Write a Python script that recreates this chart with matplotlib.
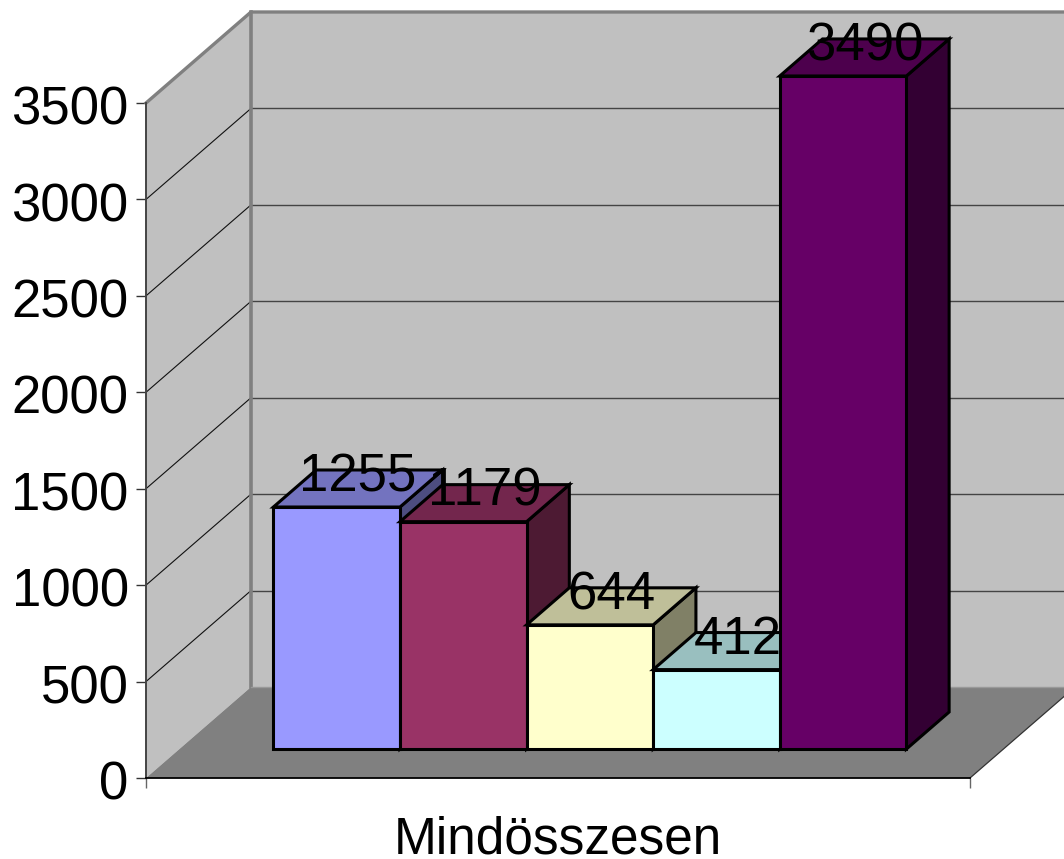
import matplotlib
matplotlib.use("Agg")
import matplotlib.pyplot as plt
from matplotlib.patches import Polygon
from matplotlib.colors import to_rgb
from matplotlib.transforms import ScaledTranslation

plt.rcParams['font.family'] = ['Liberation Sans', 'DejaVu Sans']

# ---- data ----
category = 'Mindösszesen'
values = [1255, 1179, 644, 412, 3490]
colors = ['#9999FF', '#993366', '#FFFFCC', '#CCFFFF', '#660066']
y_ticks = [0, 500, 1000, 1500, 2000, 2500, 3000, 3500]

# ---- layout ----
W, H = 1064, 859
PX_L, PX_R, PX_B, PX_T = 146, 970, 778, 103
DEPTH_X = 105 / (PX_R - PX_L)              # full depth, x axis units
DEPTH_Y = 91 * y_ticks[-1] / (PX_B - PX_T)  # full depth, value units
BAR_W = 126.6 / (PX_R - PX_L)
BAR_START = 94 / (PX_R - PX_L)
D0, D1 = 0.318, 0.725                       # bar front/back in the depth
FS = 38


def proj(x, v, d):
    return (x + d * DEPTH_X, v + d * DEPTH_Y)


def shade(c, f):
    return tuple(f * a for a in to_rgb(c))


fig = plt.figure(figsize=(W / 100, H / 100), dpi=100, facecolor='white')
ax = fig.add_axes([PX_L / W, 1 - PX_B / H, (PX_R - PX_L) / W, (PX_B - PX_T) / H])
ax.set_xlim(0, 1)
ax.set_ylim(0, y_ticks[-1])
ax.patch.set_visible(False)
ymax = y_ticks[-1]

# walls and floor
ax.add_patch(Polygon([proj(0, 0, 1), proj(1, 0, 1), proj(1, ymax, 1), proj(0, ymax, 1)],
                     fc='#C0C0C0', ec='none', clip_on=False, zorder=1))
ax.add_patch(Polygon([proj(0, 0, 0), proj(0, 0, 1), proj(0, ymax, 1), proj(0, ymax, 0)],
                     fc='#C0C0C0', ec='none', clip_on=False, zorder=1))
ax.add_patch(Polygon([proj(0, 0, 0), proj(1, 0, 0), proj(1, 0, 1), proj(0, 0, 1)],
                     fc='#808080', ec='none', clip_on=False, zorder=1))

# gridlines
for t in y_ticks[1:-1]:
    a, b, c = proj(0, t, 0), proj(0, t, 1), proj(1, t, 1)
    ax.plot([a[0], b[0]], [a[1], b[1]], color='#111111', lw=0.8, clip_on=False, zorder=2)
    ax.plot([b[0], c[0]], [b[1], c[1]], color='#444444', lw=1.0, clip_on=False, zorder=2)

# wall frame
frame = [proj(0, ymax, 0), proj(0, ymax, 1), proj(1, ymax, 1)]
ax.plot([p[0] for p in frame], [p[1] for p in frame], color='#808080', lw=2.4, clip_on=False, zorder=2)
e0, e1 = proj(0, 0, 1), proj(0, ymax, 1)
ax.plot([e0[0], e1[0]], [e0[1], e1[1]], color='#808080', lw=2.6, clip_on=False, zorder=2)
e2 = proj(1, 0, 1)
ax.plot([e0[0], e2[0]], [e0[1], e2[1]], color='#999999', lw=1, clip_on=False, zorder=2)
e3, e4 = proj(1, 0, 0), proj(1, 0, 1)
ax.plot([e3[0], e4[0]], [e3[1], e4[1]], color='#333333', lw=0.9, clip_on=False, zorder=2)

# bars
for i, (v, c) in enumerate(zip(values, colors)):
    x0 = BAR_START + i * BAR_W
    x1 = x0 + BAR_W
    z = 3 + i
    kw = dict(ec='black', lw=2.2, joinstyle='miter', clip_on=False, zorder=z)
    ax.add_patch(Polygon([proj(x1, 0, D0), proj(x1, 0, D1), proj(x1, v, D1), proj(x1, v, D0)],
                         fc=shade(c, 0.5), **kw))
    ax.add_patch(Polygon([proj(x0, v, D0), proj(x1, v, D0), proj(x1, v, D1), proj(x0, v, D1)],
                         fc=shade(c, 0.75), **kw))
    ax.add_patch(Polygon([proj(x0, 0, D0), proj(x1, 0, D0), proj(x1, v, D0), proj(x0, v, D0)],
                         fc=c, **kw))

# data labels
for i, v in enumerate(values):
    xc = BAR_START + (i + 0.5) * BAR_W
    ax.annotate(str(v), proj(xc, v, (D0 + D1) / 2), xytext=(0, -2), textcoords='offset points',
                ha='center', va='baseline', fontsize=FS, color='black',
                annotation_clip=False, zorder=20)

# axes
for s in ('top', 'right'):
    ax.spines[s].set_visible(False)
ax.spines['left'].set_color('#444444')
ax.spines['left'].set_linewidth(1.4)
ax.spines['bottom'].set_color('black')
ax.spines['bottom'].set_linewidth(1.3)
ax.set_yticks(y_ticks, [str(t) for t in y_ticks], fontsize=FS)
ax.tick_params(axis='y', length=7.5, width=1, color='#333333', pad=5)
for lab in ax.get_yticklabels():
    lab.set_transform(lab.get_transform() + ScaledTranslation(0, -1.5 / 72, fig.dpi_scale_trans))
ax.set_xticks([0, 1], ['', ''])
ax.tick_params(axis='x', which='major', length=7.5, width=1, color='#666666')
ax.set_xticks([0.5], [category], minor=True)
ax.tick_params(axis='x', which='minor', length=0, pad=27, labelsize=37)

fig.savefig('out.png', dpi=100, facecolor='white')
